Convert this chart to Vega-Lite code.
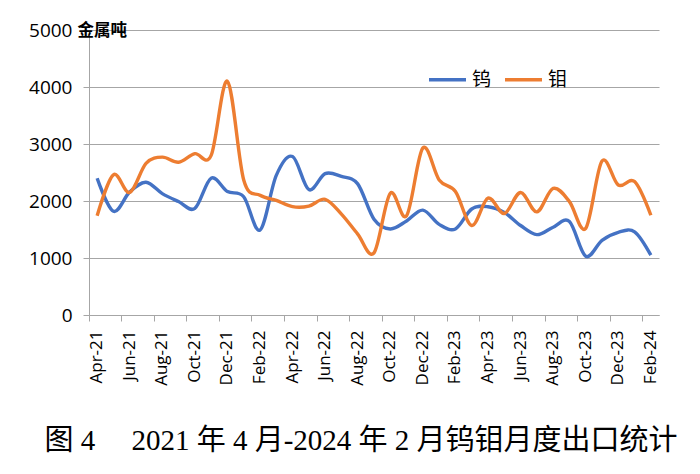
{
  "$schema": "https://vega.github.io/schema/vega-lite/v6.json",
  "width": 570,
  "height": 285,
  "autosize": {"type": "none"},
  "padding": {"left": 89, "top": 30, "right": 41, "bottom": 159},
  "background": "white",
  "config": {"view": {"stroke": null}, "font": "Open Sans"},
  "title": {
    "text": "图 4\u00a0\u00a0\u00a0\u00a0\u00a02021 年 4 月-2024 年 2 月钨钼月度出口统计",
    "orient": "bottom",
    "anchor": "middle",
    "frame": "group",
    "dx": -13,
    "offset": 42,
    "font": "Liberation Serif, Noto Sans CJK SC",
    "fontSize": 29,
    "fontWeight": "normal",
    "color": "#000000"
  },
  "data": {
    "values": [
      {"month": "Apr-21", "series": "钨", "value": 2400},
      {"month": "May-21", "series": "钨", "value": 1820},
      {"month": "Jun-21", "series": "钨", "value": 2160},
      {"month": "Jul-21", "series": "钨", "value": 2330},
      {"month": "Aug-21", "series": "钨", "value": 2130},
      {"month": "Sep-21", "series": "钨", "value": 1990},
      {"month": "Oct-21", "series": "钨", "value": 1870},
      {"month": "Nov-21", "series": "钨", "value": 2400},
      {"month": "Dec-21", "series": "钨", "value": 2165},
      {"month": "Jan-22", "series": "钨", "value": 2075},
      {"month": "Feb-22", "series": "钨", "value": 1490},
      {"month": "Mar-22", "series": "钨", "value": 2450},
      {"month": "Apr-22", "series": "钨", "value": 2780},
      {"month": "May-22", "series": "钨", "value": 2200},
      {"month": "Jun-22", "series": "钨", "value": 2480},
      {"month": "Jul-22", "series": "钨", "value": 2430},
      {"month": "Aug-22", "series": "钨", "value": 2300},
      {"month": "Sep-22", "series": "钨", "value": 1680},
      {"month": "Oct-22", "series": "钨", "value": 1510},
      {"month": "Nov-22", "series": "钨", "value": 1650},
      {"month": "Dec-22", "series": "钨", "value": 1840},
      {"month": "Jan-23", "series": "钨", "value": 1590},
      {"month": "Feb-23", "series": "钨", "value": 1510},
      {"month": "Mar-23", "series": "钨", "value": 1860},
      {"month": "Apr-23", "series": "钨", "value": 1900},
      {"month": "May-23", "series": "钨", "value": 1800},
      {"month": "Jun-23", "series": "钨", "value": 1570},
      {"month": "Jul-23", "series": "钨", "value": 1410},
      {"month": "Aug-23", "series": "钨", "value": 1540},
      {"month": "Sep-23", "series": "钨", "value": 1640},
      {"month": "Oct-23", "series": "钨", "value": 1030},
      {"month": "Nov-23", "series": "钨", "value": 1310},
      {"month": "Dec-23", "series": "钨", "value": 1450},
      {"month": "Jan-24", "series": "钨", "value": 1460},
      {"month": "Feb-24", "series": "钨", "value": 1050},
      {"month": "Apr-21", "series": "钼", "value": 1740},
      {"month": "May-21", "series": "钼", "value": 2460},
      {"month": "Jun-21", "series": "钼", "value": 2150},
      {"month": "Jul-21", "series": "钼", "value": 2660},
      {"month": "Aug-21", "series": "钼", "value": 2770},
      {"month": "Sep-21", "series": "钼", "value": 2680},
      {"month": "Oct-21", "series": "钼", "value": 2830},
      {"month": "Nov-21", "series": "钼", "value": 2800},
      {"month": "Dec-21", "series": "钼", "value": 4100},
      {"month": "Jan-22", "series": "钼", "value": 2370},
      {"month": "Feb-22", "series": "钼", "value": 2100},
      {"month": "Mar-22", "series": "钼", "value": 2010},
      {"month": "Apr-22", "series": "钼", "value": 1900},
      {"month": "May-22", "series": "钼", "value": 1910},
      {"month": "Jun-22", "series": "钼", "value": 2030},
      {"month": "Jul-22", "series": "钼", "value": 1770},
      {"month": "Aug-22", "series": "钼", "value": 1420},
      {"month": "Sep-22", "series": "钼", "value": 1090},
      {"month": "Oct-22", "series": "钼", "value": 2135},
      {"month": "Nov-22", "series": "钼", "value": 1740},
      {"month": "Dec-22", "series": "钼", "value": 2930},
      {"month": "Jan-23", "series": "钼", "value": 2370},
      {"month": "Feb-23", "series": "钼", "value": 2165},
      {"month": "Mar-23", "series": "钼", "value": 1570},
      {"month": "Apr-23", "series": "钼", "value": 2050},
      {"month": "May-23", "series": "钼", "value": 1780},
      {"month": "Jun-23", "series": "钼", "value": 2150},
      {"month": "Jul-23", "series": "钼", "value": 1810},
      {"month": "Aug-23", "series": "钼", "value": 2220},
      {"month": "Sep-23", "series": "钼", "value": 1990},
      {"month": "Oct-23", "series": "钼", "value": 1520},
      {"month": "Nov-23", "series": "钼", "value": 2700},
      {"month": "Dec-23", "series": "钼", "value": 2280},
      {"month": "Jan-24", "series": "钼", "value": 2340},
      {"month": "Feb-24", "series": "钼", "value": 1750}
    ]
  },
  "mark": {"type": "line", "interpolate": "cardinal", "strokeWidth": 3.4},
  "encoding": {
    "x": {
      "field": "month",
      "type": "ordinal",
      "sort": ["Apr-21","May-21","Jun-21","Jul-21","Aug-21","Sep-21","Oct-21","Nov-21","Dec-21","Jan-22","Feb-22","Mar-22","Apr-22","May-22","Jun-22","Jul-22","Aug-22","Sep-22","Oct-22","Nov-22","Dec-22","Jan-23","Feb-23","Mar-23","Apr-23","May-23","Jun-23","Jul-23","Aug-23","Sep-23","Oct-23","Nov-23","Dec-23","Jan-24","Feb-24"],
      "bandPosition": 0.5,
      "scale": {"type": "band", "paddingInner": 0, "paddingOuter": 0},
      "axis": {
        "title": null,
        "values": ["Apr-21","Jun-21","Aug-21","Oct-21","Dec-21","Feb-22","Apr-22","Jun-22","Aug-22","Oct-22","Dec-22","Feb-23","Apr-23","Jun-23","Aug-23","Oct-23","Dec-23","Feb-24"],
        "bandPosition": 0,
        "labelAngle": -90,
        "labelFont": "Open Sans",
        "labelFontSize": 17,
        "labelColor": "#000000",
        "labelPadding": 9,
        "tickSize": 6,
        "tickColor": "#a6a6a6",
        "domainColor": "#a6a6a6",
        "grid": false
      }
    },
    "y": {
      "field": "value",
      "type": "quantitative",
      "scale": {"domain": [0, 5000], "nice": false},
      "axis": {
        "values": [0, 1000, 2000, 3000, 4000, 5000],
        "format": "d",
        "grid": true,
        "gridColor": "#a6a6a6",
        "gridWidth": 1.2,
        "domainColor": "#a6a6a6",
        "tickColor": "#a6a6a6",
        "tickSize": 6,
        "labelFont": "Open Sans",
        "labelFontSize": 19,
        "labelColor": "#000000",
        "labelPadding": 11,
        "title": "金属吨",
        "titleAngle": 0,
        "titleAlign": "left",
        "titleBaseline": "middle",
        "titleX": -12,
        "titleY": 0,
        "titleFont": "Noto Sans CJK SC",
        "titleFontSize": 16.5,
        "titleFontWeight": "bold",
        "titleColor": "#000000"
      }
    },
    "color": {
      "field": "series",
      "type": "nominal",
      "scale": {"domain": ["钨", "钼"], "range": ["#4472C4", "#ED7D31"]},
      "legend": {
        "title": null,
        "orient": "none",
        "direction": "horizontal",
        "legendX": 338,
        "legendY": 29,
        "padding": 0,
        "symbolType": "stroke",
        "symbolSize": 1369,
        "symbolStrokeWidth": 3.5,
        "labelFont": "Noto Sans CJK SC",
        "labelFontSize": 19,
        "labelColor": "#000000",
        "labelOffset": 4,
        "columnPadding": 6
      }
    }
  }
}
